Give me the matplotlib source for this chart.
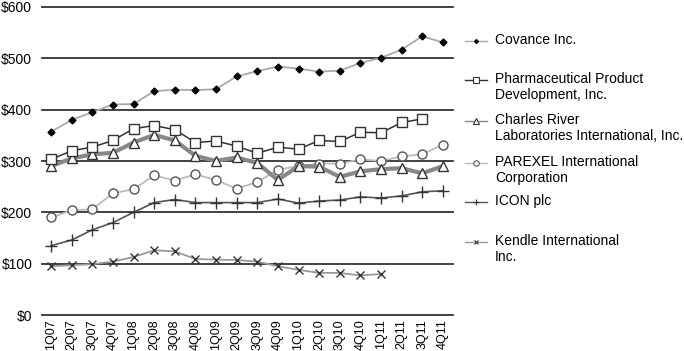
import matplotlib
matplotlib.use("Agg")
import numpy as np
import matplotlib.pyplot as plt
from matplotlib.lines import Line2D

plt.rcParams['font.family'] = ['Liberation Sans', 'DejaVu Sans']

# DATA
quarters = ['1Q07', '2Q07', '3Q07', '4Q07', '1Q08', '2Q08', '3Q08', '4Q08',
            '1Q09', '2Q09', '3Q09', '4Q09', '1Q10', '2Q10', '3Q10', '4Q10',
            '1Q11', '2Q11', '3Q11', '4Q11']
covance = [357, 380, 395, 410, 411, 436, 439, 438, 440, 465, 475, 484,
           480, 474, 476, 491, 501, 517, 543, 531]
ppd = [303, 320, 327, 340, 363, 369, 361, 336, 339, 329, 315, 327,
       323, 340, 338, 356, 355, 375, 382, None]
charles_river = [290, 305, 313, 316, 336, 351, 340, 310, 300, 307, 296, 263,
                 290, 289, 269, 280, 284, 286, 276, 290]
parexel = [190, 204, 206, 237, 245, 272, 262, 274, 263, 246, 259, 283,
           290, 295, 295, 303, 300, 309, 313, 332]
icon = [135, 146, 166, 180, 200, 219, 225, 219, 219, 219, 219, 226,
        218, 222, 224, 230, 228, 232, 240, 242]
kendle = [95, 97, 99, 104, 113, 126, 124, 109, 108, 107, 104, 95,
          88, 82, 82, 77, 80, None, None, None]
labels = ['Covance Inc.', 'Pharmaceutical Product\nDevelopment, Inc.',
          'Charles River\nLaboratories International, Inc.',
          'PAREXEL International\nCorporation', 'ICON plc',
          'Kendle International\nInc.']
yticks = [0, 100, 200, 300, 400, 500, 600]

# line style for each series: line color, width, marker, size, face, edge
styles = [
    dict(color='#aaaaaa', lw=1.3, marker='D', ms=3.5, mfc='black', mec='black'),
    dict(color='#333333', lw=1.1, marker='s', ms=7, mfc='white', mec='#333333'),
    dict(color='#888888', lw=3.0, marker='^', ms=6.5, mfc='white', mec='#333333'),
    dict(color='#bbbbbb', lw=1.3, marker='o', ms=6.5, mfc='white', mec='#555555'),
    dict(color='#555555', lw=1.2, marker='+', ms=8, mfc='black', mec='#333333'),
    dict(color='#999999', lw=1.3, marker='x', ms=6, mfc='black', mec='#333333'),
]
series = [covance, ppd, charles_river, parexel, icon, kendle]

fig = plt.figure(figsize=(6.84, 3.51), dpi=100)
ax = fig.add_axes([42 / 684, 1 - 315 / 351, (453 - 42) / 684, (315 - 7) / 351])

x = np.arange(len(quarters))
for y in yticks:
    ax.axhline(y, color='#333333', lw=1.3, zorder=1, clip_on=False)

# draw in reverse order so upper series sit on top
for vals, st in reversed(list(zip(series, styles))):
    v = np.array([np.nan if a is None else a for a in vals], dtype=float)
    ax.plot(x, v, color=st['color'], lw=st['lw'], marker=st['marker'],
            ms=st['ms'], mfc=st['mfc'], mec=st['mec'], mew=1.0, zorder=3)

ax.set_xlim(-0.44, 19.49)
ax.set_ylim(0, 600)
ax.set_xticks(x)
ax.set_xticklabels(quarters, rotation=90, fontsize=9)
ax.set_yticks(yticks)
ax.set_yticklabels(['$' + str(t) for t in yticks], fontsize=10)
ax.tick_params(axis='y', length=0, pad=7)
ax.tick_params(axis='x', length=0, pad=3)
for s in ax.spines.values():
    s.set_visible(False)

# legend drawn by hand so the marker lines up with the first text line
leg_y = [41, 80, 121, 163, 202, 242]
for lab, st, yp in zip(labels, styles, leg_y):
    yf = 1 - yp / 351
    fig.add_artist(Line2D([465 / 684, 487 / 684], [yf, yf], color=st['color'],
                          lw=1.0, transform=fig.transFigure))
    fig.add_artist(Line2D([476 / 684], [yf], marker=st['marker'],
                          ms=st['ms'] * 0.6, mfc=st['mfc'], mec=st['mec'],
                          mew=0.8, transform=fig.transFigure))
    fig.text(495 / 684, 1 - (yp - 8) / 351, lab, fontsize=10, va='top',
             ha='left', linespacing=1.2)

fig.savefig('out.png', dpi=100)
